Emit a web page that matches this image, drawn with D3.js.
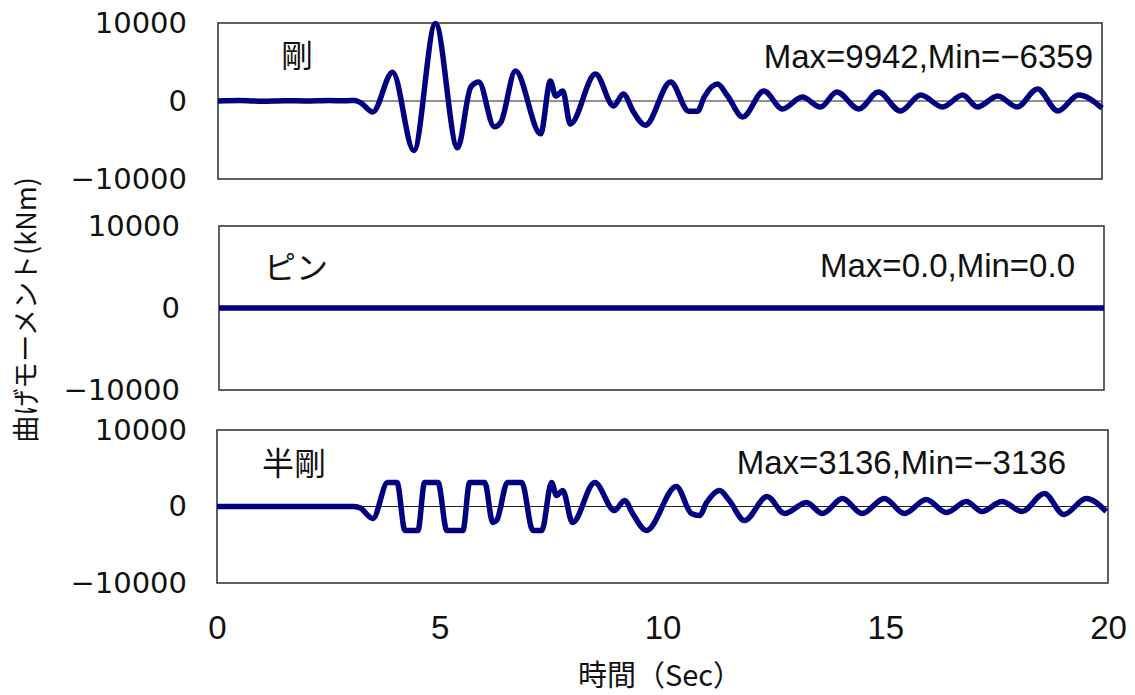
<!DOCTYPE html>
<html>
<head>
<meta charset="utf-8">
<script src="https://cdn.jsdelivr.net/npm/d3@7.9.0/dist/d3.min.js"></script>
<style>
  body { margin: 0; background: #fff; }
  svg { display: block; }
</style>
</head>
<body>
<div id="chart"></div>
<script>
// time (sec) and bending moment (kNm)
const timeRigid = [0, 0.5, 1.0, 1.5, 2.0, 2.5, 2.9, 3.1, 3.25, 3.5, 3.95, 4.43, 4.92, 5.42, 5.72, 5.9,
  6.25, 6.4, 6.73, 7.3, 7.52, 7.64, 7.8, 7.97, 8.54, 8.95, 9.17, 9.4, 9.67, 10.24, 10.65, 10.85,
  11.0, 11.3, 11.53, 11.87, 12.35, 12.77, 13.22, 13.63, 14.0, 14.5, 14.94, 15.44, 15.9, 16.39,
  16.85, 17.18, 17.64, 18.08, 18.54, 19.0, 19.47, 20.0];
const momentRigid = [0, 50, -30, 40, 0, 60, 30, 80, -300, -1400, 3700, -6359, 9942, -6000, 1800, 2430,
  -3300, -2700, 3840, -4200, 2560, 640, 1280, -2950, 3450, -640, 900, -1400, -3100, 2430, -1300, -1300,
  500, 2170, 640, -2050, 1280, -1020, 500, -770, 1150, -1020, 1150, -1280, 770, -770,
  770, -770, 640, -770, 1540, -1280, 770, -900];

const timePin = [0, 20];
const momentPin = [0, 0];

const timeSemi = [0, 1.0, 2.0, 3.05, 3.2, 3.5, 3.83, 4.04, 4.22, 4.51, 4.66, 4.96, 5.16, 5.52, 5.67, 6.01,
  6.19, 6.28, 6.52, 6.84, 7.09, 7.29, 7.51, 7.62, 7.76, 7.98, 8.48, 8.92, 9.15, 9.33, 9.64, 10.31,
  10.65, 10.83, 10.99, 11.28, 11.5, 11.84, 12.35, 12.74, 13.23, 13.59, 14.04, 14.48, 14.98, 15.43,
  15.92, 16.37, 16.82, 17.17, 17.62, 18.07, 18.57, 19.01, 19.51, 19.96];
const momentSemi = [0, 0, 0, 0, -150, -1570, 3136, 3136, -3136, -3136, 3136, 3136, -3136, -3136, 3136, 3136,
  -2100, -1800, 3136, 3136, -3136, -3136, 3136, 1440, 2100, -2100, 3136, -520, 790, -920, -3136, 2600,
  -920, -1180, 520, 2100, 790, -1830, 1310, -920, 520, -920, 1050, -920, 1050, -920,
  920, -790, 650, -650, 650, -650, 1700, -1050, 1050, -650];

const panelNames = ['剛', 'ピン', '半剛'];
const maxMinLabels = ['Max=9942,Min=\u22126359', 'Max=0.0,Min=0.0', 'Max=3136,Min=\u22123136'];
const yTicks = [-10000, 0, 10000];
const xTicks = [0, 5, 10, 15, 20];

const series = [
  { time: timeRigid, moment: momentRigid },
  { time: timePin, moment: momentPin },
  { time: timeSemi, moment: momentSemi },
];

// panel boxes in the picture (slightly uneven, as in the original)
const layout = [
  { top: 23, bottom: 179, left: 218, right: 1102, nameX: 297, nameY: 67, infoX: 1093, infoY: 68, tickRight: 187 },
  { top: 226, bottom: 390, left: 219, right: 1104, nameX: 296, nameY: 279, infoX: 1075, infoY: 277, tickRight: 180 },
  { top: 430, bottom: 583, left: 217, right: 1108, nameX: 294, nameY: 475, infoX: 1066, infoY: 474, tickRight: 187 },
];

const width = 1135;
const height = 695;

const svg = d3.select('#chart')
  .append('svg')
  .attr('width', width)
  .attr('height', height);

const tickFormat = (d) => d < 0 ? '\u2212' + Math.abs(d) : String(d);

function renderPanel(i) {
  const box = layout[i];
  const data = series[i].time.map((t, k) => ({ t, v: series[i].moment[k] }));

  const xScale = d3.scaleLinear().domain([0, 20]).range([box.left, box.right]);
  const yScale = d3.scaleLinear().domain([-10000, 10000]).range([box.bottom, box.top]);

  const g = svg.append('g').attr('class', 'panel');

  g.append('rect')
    .attr('x', box.left)
    .attr('y', box.top)
    .attr('width', box.right - box.left)
    .attr('height', box.bottom - box.top)
    .attr('fill', 'none')
    .attr('stroke', '#3a3a3a')
    .attr('stroke-width', 1.6);

  // zero line
  g.append('line')
    .attr('x1', box.left)
    .attr('x2', box.right)
    .attr('y1', yScale(0))
    .attr('y2', yScale(0))
    .attr('stroke', '#222')
    .attr('stroke-width', 1.2);

  const line = d3.line()
    .x((d) => xScale(d.t))
    .y((d) => yScale(d.v))
    .curve(d3.curveMonotoneX);

  g.append('path')
    .datum(data)
    .attr('d', line)
    .attr('fill', 'none')
    .attr('stroke', '#000080')
    .attr('stroke-width', 5.5)
    .attr('stroke-linejoin', 'round');

  // y axis labels only
  const yAxis = d3.axisLeft(yScale)
    .tickValues(yTicks)
    .tickSize(0)
    .tickPadding(0)
    .tickFormat(tickFormat);

  const ax = g.append('g')
    .attr('transform', `translate(${box.tickRight}, 0)`)
    .call(yAxis);
  ax.select('.domain').remove();
  ax.selectAll('text')
    .attr('font-family', 'DejaVu Sans')
    .attr('font-size', 29)
    .attr('fill', '#111');

  g.append('text')
    .attr('x', box.nameX)
    .attr('y', box.nameY)
    .attr('text-anchor', 'middle')
    .attr('font-family', 'Noto Sans CJK JP')
    .attr('font-size', 32)
    .attr('fill', '#111')
    .text(panelNames[i]);

  g.append('text')
    .attr('x', box.infoX)
    .attr('y', box.infoY)
    .attr('text-anchor', 'end')
    .attr('font-family', 'Liberation Sans')
    .attr('font-size', 33)
    .attr('fill', '#111')
    .text(maxMinLabels[i]);

  return xScale;
}

let xScale;
for (let i = 0; i < 3; i++) {
  xScale = renderPanel(i);
}

// x axis under the last panel
const xAxis = d3.axisBottom(xScale)
  .tickValues(xTicks)
  .tickSize(0)
  .tickPadding(0);

const xg = svg.append('g')
  .attr('transform', `translate(0, ${layout[2].bottom + 33})`)
  .call(xAxis);
xg.select('.domain').remove();
xg.selectAll('text')
  .attr('font-family', 'Liberation Sans')
  .attr('font-size', 33)
  .attr('fill', '#111');

svg.append('text')
  .attr('x', 660)
  .attr('y', 686)
  .attr('text-anchor', 'middle')
  .attr('font-family', 'Noto Sans CJK JP')
  .attr('font-size', 29)
  .attr('fill', '#111')
  .text('時間（Sec）');

svg.append('text')
  .attr('transform', 'translate(36, 310) rotate(-90)')
  .attr('text-anchor', 'middle')
  .attr('font-family', 'Noto Sans CJK JP')
  .attr('font-size', 27)
  .attr('fill', '#111')
  .text('曲げモーメント(kNm)');
</script>
</body>
</html>
